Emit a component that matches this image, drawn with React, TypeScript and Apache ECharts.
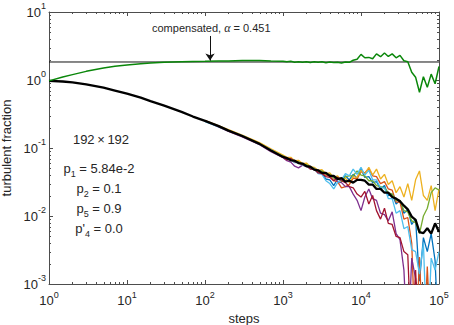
import React, { useEffect, useRef } from 'react';
import * as echarts from 'echarts';

const FONT = '"Liberation Sans", Arial, Helvetica, sans-serif';
const TEXT_COLOR = '#262626';
const AXIS_COLOR = '#4d4d4d';

const X_MIN = 1;
const X_MAX = 100000;
const Y_MIN = 0.001;
const Y_MAX = 10;

// smooth part of the mean / compensated curves
const X_MAIN = [1, 1.5, 2, 3, 5, 7, 10, 15, 20, 30, 50, 70, 100, 150, 200, 300, 500, 700];
// fine (noisy) part
const X_FINE = [1000, 1120, 1260, 1410, 1580, 1780, 2000, 2240, 2510, 2820, 3160, 3550, 3980, 4470, 5010, 5620, 6310, 7080, 7940, 8910, 10000, 11200, 12600, 14100, 15800, 17800, 20000, 22400, 25100, 28200, 31600, 35500, 39800, 44700, 50100, 56200, 63100, 70800, 79400, 89100, 100000];
// individual runs start here
const X_RUN_START = [100, 200, 300, 500, 700];

// mean turbulent fraction (black)
const MEAN_MAIN = [0.97, 0.95, 0.92, 0.86, 0.77, 0.70, 0.63, 0.55, 0.49, 0.42, 0.34, 0.29, 0.25, 0.21, 0.18, 0.15, 0.115, 0.092];
const MEAN_FINE = [0.074, 0.071, 0.066, 0.065, 0.060, 0.059, 0.054, 0.053, 0.048, 0.047, 0.043, 0.043, 0.039, 0.039, 0.035, 0.036, 0.032, 0.033, 0.031, 0.034, 0.034, 0.033, 0.029, 0.029, 0.025, 0.025, 0.022, 0.022, 0.019, 0.018, 0.0165, 0.0142, 0.0125, 0.0098, 0.0088, 0.0058, 0.0056, 0.0066, 0.0055, 0.0078, 0.0058];

// compensated curve (green)
const COMP_MAIN = [0.97, 1.11, 1.20, 1.34, 1.50, 1.59, 1.66, 1.73, 1.78, 1.82, 1.85, 1.87, 1.88, 1.90, 1.91, 1.94, 1.93, 1.90];
const COMP_FINE = [1.89, 1.85, 1.88, 1.83, 1.86, 1.82, 1.86, 1.81, 1.86, 1.82, 1.85, 1.80, 1.84, 1.81, 1.83, 1.78, 1.84, 1.82, 1.95, 2.02, 2.38, 2.12, 2.15, 2.05, 2.42, 2.20, 2.50, 2.22, 2.42, 2.12, 2.30, 1.92, 1.86, 1.30, 1.10, 0.66, 1.12, 0.78, 1.22, 0.88, 1.58];

const ALPHA_LEVEL = 1.84;
const ALPHA_LABEL = 'compensated, ';
const ALPHA_VALUE = ' = 0.451';
const ARROW_X = 116;
const ARROW_FROM = 4.44;
const ARROW_TO = 1.93;

// individual runs (a value of 0 is drawn as 1e-4, below the axis)
const RUN_BLUE = [0.25, 0.182, 0.148, 0.117, 0.092, 0.075, 0.069, 0.068, 0.061, 0.062, 0.056, 0.055, 0.051, 0.048, 0.044, 0.043, 0.035, 0.034, 0.028, 0.035, 0.033, 0.039, 0.034, 0.041, 0.036, 0.049, 0.037, 0.038, 0.031, 0.032, 0.025, 0.028, 0.020, 0.021, 0.015, 0.017, 0.011, 0.0125, 0.0075, 0.0090, 0.0011, 0.0048, 0.0030, 0.0055, 0.0022, 0.0001];
const RUN_ORANGE = [0.248, 0.18, 0.151, 0.116, 0.093, 0.075, 0.071, 0.068, 0.062, 0.062, 0.056, 0.056, 0.050, 0.048, 0.045, 0.044, 0.040, 0.039, 0.033, 0.032, 0.026, 0.027, 0.029, 0.036, 0.035, 0.045, 0.043, 0.050, 0.039, 0.038, 0.030, 0.032, 0.025, 0.024, 0.016, 0.016, 0.0090, 0.0095, 0.0040, 0.0001, 0.0025, 0.0001, 0.0018, 0.0001, 0.0001, 0.0001];
const RUN_YELLOW = [0.255, 0.186, 0.155, 0.12, 0.097, 0.079, 0.073, 0.073, 0.065, 0.066, 0.059, 0.060, 0.053, 0.052, 0.047, 0.048, 0.042, 0.043, 0.037, 0.039, 0.033, 0.036, 0.031, 0.038, 0.037, 0.047, 0.041, 0.052, 0.040, 0.049, 0.035, 0.041, 0.029, 0.033, 0.022, 0.027, 0.019, 0.030, 0.017, 0.034, 0.046, 0.020, 0.017, 0.028, 0.012, 0.025];
const RUN_PURPLE = [0.25, 0.176, 0.146, 0.112, 0.088, 0.072, 0.065, 0.062, 0.054, 0.051, 0.056, 0.053, 0.052, 0.048, 0.047, 0.042, 0.042, 0.038, 0.037, 0.032, 0.031, 0.027, 0.027, 0.021, 0.017, 0.0120, 0.019, 0.025, 0.018, 0.017, 0.011, 0.0105, 0.0085, 0.0115, 0.0055, 0.0045, 0.0016, 0.0001, 0.0024, 0.0012, 0.0001, 0.0001, 0.0001, 0.0001, 0.0001, 0.0001];
const RUN_GREEN = [0.251, 0.181, 0.15, 0.116, 0.093, 0.076, 0.070, 0.069, 0.063, 0.063, 0.057, 0.057, 0.052, 0.050, 0.046, 0.046, 0.041, 0.041, 0.036, 0.036, 0.032, 0.038, 0.039, 0.039, 0.046, 0.040, 0.039, 0.033, 0.033, 0.028, 0.027, 0.026, 0.022, 0.021, 0.017, 0.017, 0.012, 0.0115, 0.0085, 0.0080, 0.0055, 0.010, 0.013, 0.022, 0.026, 0.024];
const RUN_LIGHTBLUE = [0.245, 0.178, 0.152, 0.113, 0.094, 0.073, 0.070, 0.067, 0.062, 0.060, 0.056, 0.054, 0.049, 0.050, 0.042, 0.041, 0.033, 0.030, 0.025, 0.031, 0.034, 0.042, 0.039, 0.049, 0.041, 0.052, 0.040, 0.047, 0.034, 0.034, 0.026, 0.026, 0.018, 0.018, 0.011, 0.012, 0.0065, 0.0070, 0.0032, 0.0030, 0.0014, 0.0040, 0.0001, 0.0024, 0.0016, 0.0030];
const RUN_CRIMSON = [0.252, 0.179, 0.149, 0.114, 0.091, 0.073, 0.067, 0.070, 0.063, 0.061, 0.057, 0.055, 0.049, 0.049, 0.043, 0.042, 0.038, 0.037, 0.033, 0.037, 0.033, 0.031, 0.027, 0.026, 0.021, 0.019, 0.023, 0.015, 0.020, 0.012, 0.0090, 0.013, 0.0078, 0.0075, 0.0050, 0.0048, 0.0030, 0.0027, 0.0001, 0.0016, 0.0001, 0.0001, 0.0001, 0.0001, 0.0001, 0.0001];

const RUNS: [string, string, number[]][] = [
  ['run 1', '#0072BD', RUN_BLUE],
  ['run 2', '#D95319', RUN_ORANGE],
  ['run 3', '#EDB120', RUN_YELLOW],
  ['run 4', '#7E2F8E', RUN_PURPLE],
  ['run 5', '#77AC30', RUN_GREEN],
  ['run 6', '#4DBEEE', RUN_LIGHTBLUE],
  ['run 7', '#A2142F', RUN_CRIMSON],
];

const SIZE_LABEL = '192\u2009×\u2009192';
const PARAM_LINES: [string, string, string][] = [
  ['p', '1', ' = 5.84e-2'],
  ['p', '2', ' = 0.1'],
  ['p', '5', ' = 0.9'],
  ["p'", '4', ' = 0.0'],
];

const X_RUNS = X_RUN_START.concat(X_FINE);
const X_ALL = X_MAIN.concat(X_FINE);
const MEAN_ALL = MEAN_MAIN.concat(MEAN_FINE);
const COMP_ALL = COMP_MAIN.concat(COMP_FINE);

function powLabel(v: number) {
  const e = Math.round(Math.log10(v));
  return `{b|10}{s|${e}}`;
}

const axisRich = {
  b: { fontSize: 13, fontFamily: FONT, color: TEXT_COLOR },
  s: { fontSize: 9, fontFamily: FONT, color: TEXT_COLOR, padding: [0, 0, 12, 0] },
};

export default function App() {
  const ref = useRef<HTMLDivElement>(null);
  useEffect(() => {
    document.body.style.margin = '0';
    if (!ref.current) return;
    const chart = echarts.init(ref.current, null, { renderer: 'svg' });

    const minorX: number[] = [];
    for (let d = 0; d < 5; d++) for (let m = 2; m <= 9; m++) minorX.push(m * Math.pow(10, d));
    const minorY: number[] = [];
    for (let d = -3; d < 1; d++) for (let m = 2; m <= 9; m++) minorY.push(m * Math.pow(10, d));
    const tickData = minorX.map((v) => [v, 1, 0]).concat(minorY.map((v) => [10, v, 1]));

    const baseAxis = {
      type: 'log' as const,
      logBase: 10,
      axisLine: { show: true, lineStyle: { color: AXIS_COLOR, width: 1 } },
      axisTick: { show: true, inside: true, length: 4, lineStyle: { color: AXIS_COLOR } },
      splitLine: { show: false },
      minorTick: { show: false },
    };

    const runSeries = RUNS.map(([name, color, vals]) => ({
      type: 'line',
      name,
      data: X_RUNS.map((x, i) => [x, vals[i]]),
      symbol: 'none',
      showSymbol: false,
      clip: true,
      silent: true,
      lineStyle: { color, width: 1.3 },
      itemStyle: { color },
    }));

    const richP = {
      p: { fontSize: 13, fontFamily: FONT, fill: TEXT_COLOR, color: TEXT_COLOR },
      s: { fontSize: 9, fontFamily: FONT, fill: TEXT_COLOR, color: TEXT_COLOR, padding: [11, 0, 0, 0] },
    };

    const option: any = {
      animation: false,
      grid: { left: 49, right: 15, top: 12, bottom: 41, outerBoundsMode: 'none' },
      xAxis: [
        {
          ...baseAxis,
          min: X_MIN,
          max: X_MAX,
          position: 'bottom',
          name: 'steps',
          nameLocation: 'middle',
          nameGap: 21,
          nameTextStyle: { fontSize: 13, fontFamily: FONT, color: TEXT_COLOR },
          axisLabel: { show: true, margin: 6, formatter: powLabel, rich: axisRich, showMinLabel: true, showMaxLabel: true },
        },
        {
          ...baseAxis,
          min: X_MIN,
          max: X_MAX,
          position: 'top',
          axisLabel: { show: false },
        },
      ],
      yAxis: [
        {
          ...baseAxis,
          min: Y_MIN,
          max: Y_MAX,
          position: 'left',
          name: 'turbulent fraction',
          nameLocation: 'middle',
          nameGap: 33,
          nameTextStyle: { fontSize: 13, fontFamily: FONT, color: TEXT_COLOR },
          axisLabel: { show: true, margin: 3, formatter: powLabel, rich: axisRich, showMinLabel: true, showMaxLabel: true },
        },
        {
          ...baseAxis,
          min: Y_MIN,
          max: Y_MAX,
          position: 'right',
          axisLabel: { show: false },
        },
      ],
      series: [
        {
          type: 'custom',
          coordinateSystem: 'cartesian2d',
          silent: true,
          clip: false,
          data: tickData,
          renderItem: (params: any, api: any) => {
            const cs = params.coordSys;
            const isX = api.value(2) === 0;
            const len = 2;
            const st = { stroke: AXIS_COLOR, lineWidth: 1 };
            if (isX) {
              const px = Math.round(api.coord([api.value(0), 1])[0]) + 0.5;
              return {
                type: 'group',
                children: [
                  { type: 'line', shape: { x1: px, y1: cs.y + cs.height, x2: px, y2: cs.y + cs.height - len }, style: st },
                  { type: 'line', shape: { x1: px, y1: cs.y, x2: px, y2: cs.y + len }, style: st },
                ],
              };
            }
            const py = Math.round(api.coord([10, api.value(1)])[1]) + 0.5;
            return {
              type: 'group',
              children: [
                { type: 'line', shape: { x1: cs.x, y1: py, x2: cs.x + len, y2: py }, style: st },
                { type: 'line', shape: { x1: cs.x + cs.width, y1: py, x2: cs.x + cs.width - len, y2: py }, style: st },
              ],
            };
          },
        },
        ...runSeries,
        {
          type: 'line',
          name: 'mean',
          data: X_ALL.map((x, i) => [x, MEAN_ALL[i]]),
          symbol: 'none',
          clip: true,
          silent: true,
          lineStyle: { color: '#000000', width: 2.3 },
          itemStyle: { color: '#000000' },
        },
        {
          type: 'line',
          name: 'alpha level',
          data: [[X_MIN, ALPHA_LEVEL], [X_MAX, ALPHA_LEVEL]],
          symbol: 'none',
          silent: true,
          lineStyle: { color: '#111111', width: 1 },
          markLine: {
            silent: true,
            symbol: ['none', 'arrow'],
            symbolSize: 7,
            label: { show: false },
            lineStyle: { color: '#111111', width: 1, type: 'solid' },
            data: [[{ coord: [ARROW_X, ARROW_FROM] }, { coord: [ARROW_X, ARROW_TO] }]],
          },
        },
        {
          type: 'line',
          name: 'compensated',
          data: X_ALL.map((x, i) => [x, COMP_ALL[i]]),
          symbol: 'none',
          clip: true,
          silent: true,
          lineStyle: { color: '#0a870a', width: 1.5 },
          itemStyle: { color: '#0a870a' },
        },
      ],
      graphic: [
        {
          type: 'text',
          x: 152,
          y: 28,
          style: {
            text: `{t|${ALPHA_LABEL}}{a|α}{t|${ALPHA_VALUE}}`,
            align: 'left',
            verticalAlign: 'middle',
            rich: {
              t: { fontSize: 11, fontFamily: FONT, fill: TEXT_COLOR },
              a: { fontSize: 12, fontFamily: '"Liberation Serif", "DejaVu Serif", serif', fontStyle: 'italic', fill: TEXT_COLOR },
            },
          },
        },
        {
          type: 'text',
          x: 101,
          y: 139,
          style: { text: SIZE_LABEL, align: 'center', verticalAlign: 'middle', fontSize: 13, fontFamily: FONT, fill: TEXT_COLOR },
        },
        ...PARAM_LINES.map(([a, b, c], i) => ({
          type: 'text',
          x: 99,
          y: 168 + i * 20,
          style: {
            text: `{p|${a}}{s|${b}}{p|${c}}`,
            align: 'center',
            verticalAlign: 'middle',
            rich: richP,
          },
        })),
      ],
    };
    chart.setOption(option);
    return () => chart.dispose();
  }, []);
  return <div ref={ref} style={{ width: 454, height: 325 }} />;
}
